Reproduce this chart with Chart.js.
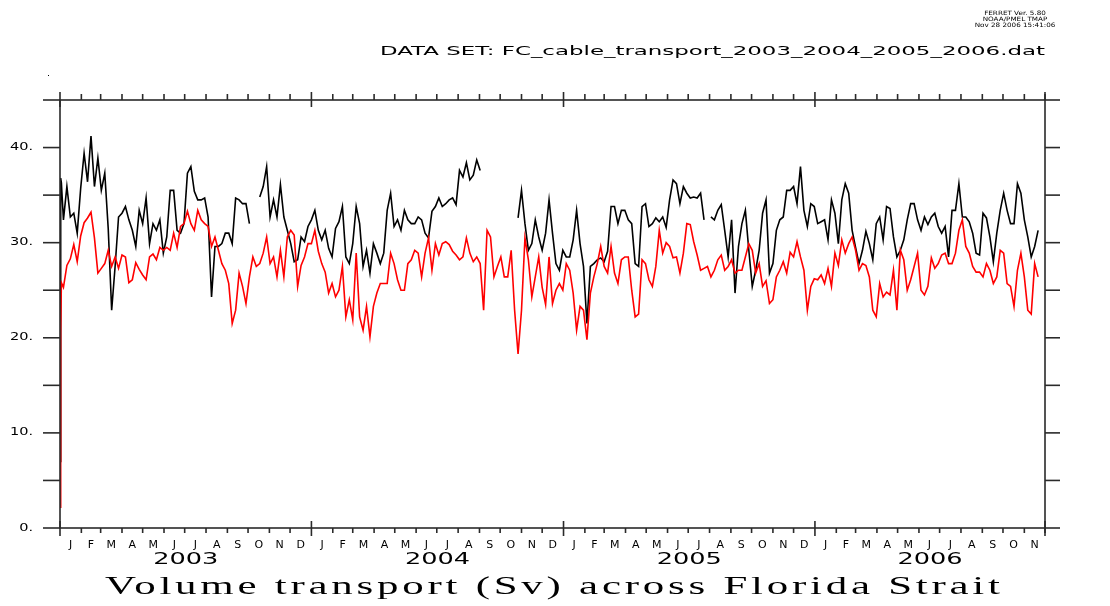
<!DOCTYPE html>
<html>
<head>
<meta charset="utf-8">
<script src="https://cdn.jsdelivr.net/npm/chart.js@4.4.1/dist/chart.umd.min.js"></script>
<style>
html,body{margin:0;padding:0;background:#ffffff;}
#wrap{position:relative;width:1110px;height:606px;}
</style>
</head>
<body>
<div id="wrap"><canvas id="c" width="1110" height="606"></canvas></div>
<script>
// ---------------- DATA ----------------
// Days are counted from 1 Jan 2003.
const X_MAX_DAY = 1430;            // 1 Dec 2006
const startDays = [0, 1, 2];       // first days of the record (spin-up)
const blackStart = [7.0, 36.8, 36.3];
const redStart = [2.2, 20.6, 25.8];
const FIRST_DAY = 5;               // main arrays start here
const DAY_STEP = 5;                // one value every 5 days

// black series (Sv), null = missing data
const blackSv = [
  // d5 - d155
  32.4, 35.9, 32.7, 33.1, 31, 35.7, 39.4, 36.4, 41.2, 35.9, 38.9, 35.5, 37.3, 31.5, 22.9, 27.5, 32.7, 33.1, 33.8, 32.4, 31.3, 29.6, 33.4, 32, 34.7, 29.9, 32, 31.3, 32.4, 28.9, 30.6,
  // d160 - d335
  35.5, 35.5, 31.3, 31, 32, 37.3, 38, 35.4, 34.5, 34.5, 34.7, 32.7, 24.3, 29.6, 29.6, 29.9, 31, 31, 29.9, 34.7, 34.5, 34.1, 34.1, 32, null, null, 34.8, 35.9, 38, 32.7, 34.5, 32.7, 36.1, 32.7, 31.3, 29.9,
  // d340 - d515
  28, 28.2, 30.6, 30.1, 31.7, 32.4, 33.4, 31.3, 30.3, 31.3, 29.4, 28.5, 31.5, 32.2, 33.8, 28.5, 27.8, 29.9, 33.8, 32, 27.5, 29.2, 26.8, 29.9, 28.9, 27.8, 28.9, 33.4, 35.2, 31.7, 32.4, 31.3, 33.4, 32.4, 32, 32,
  // d520 - d695
  32.7, 32.4, 31, 30.5, 33.3, 33.8, 34.7, 33.8, 34.1, 34.5, 34.7, 34, 37.6, 36.9, 38.4, 36.6, 37.1, 38.7, 37.6, null, null, null, null, null, null, null, null, null, null, 32.6, 35.5, 32, 29.2, 29.9, 32.4, 30.6,
  // d700 - d875
  29.2, 31, 34.5, 31, 27.8, 27.1, 29.2, 28.5, 28.5, 30.3, 33.4, 29.9, 27.5, 21.5, 27.5, 27.8, 28.2, 28.4, 28, 29.1, 33.8, 33.8, 32, 33.4, 33.4, 32.4, 32, 27.8, 27.5, 33.8, 34.1, 31.7, 32, 32.6, 32.2, 32.7,
  // d880 - d1055
  31.6, 34.5, 36.6, 36.2, 34.1, 35.9, 35.2, 34.7, 34.8, 34.7, 35.2, 32.4, null, 32.7, 32.4, 33.4, 34, 31.3, 28.5, 32.4, 24.7, 29.6, 32, 33.4, 29.2, 25.4, 27.1, 29.2, 33.1, 34.5, 26.8, 27.8, 31.3, 32.4, 32.7, 35.5,
  // d1060 - d1245
  35.5, 35.9, 34.1, 38, 33.4, 31.7, 34.1, 33.8, 32, 32.2, 32.4, 30.3, 34.5, 33.1, 29.9, 34.5, 36.2, 35.2, 31.3, 29.5, 27.8, 29.2, 31.2, 29.9, 28.2, 32, 32.7, 30.3, 33.8, 33.6, 30.6, 28.5, 29.2, 30.3, 32.4, 34.1, 34.1, 32.4,
  // d1250 - d1420
  31.3, 32.7, 31.9, 32.7, 33.1, 31.7, 31, 31.7, 28.5, 33.4, 33.4, 36.2, 32.7, 32.7, 32.2, 31, 28.9, 28.7, 33.1, 32.6, 30.6, 28, 31, 33.4, 35.2, 33.4, 32, 32, 36.2, 35.2, 32.4, 30.6, 28.5, 29.6, 31.3
];

// red series (Sv)
const redSv = [
  // d5 - d155
  25.3, 27.6, 28.3, 29.8, 28, 30.7, 32.1, 32.6, 33.2, 30.5, 26.8, 27.3, 27.8, 29.2, 27.5, 28.5, 27.3, 28.7, 28.5, 25.8, 26.1, 27.9, 27.2, 26.6, 26.1, 28.5, 28.8, 28.2, 29.5, 29.2, 29.5,
  // d160 - d335
  29.2, 31, 29.5, 31.7, 32, 33.3, 32, 31.3, 33.4, 32.4, 32, 31.7, 29.6, 30.6, 29.2, 27.8, 27.1, 25.7, 21.5, 22.9, 26.8, 25.4, 23.6, 26.4, 28.5, 27.5, 27.8, 28.9, 30.6, 27.8, 28.5, 26.4, 29.2, 26.4, 30.6, 31.3,
  // d340 - d515
  30.8, 25.4, 27.6, 28.5, 29.9, 29.9, 31.3, 29.1, 27.8, 26.9, 24.7, 25.7, 24.3, 25, 27.5, 22.2, 24, 21.9, 28.9, 22.2, 20.8, 23.3, 20.1, 23.3, 24.7, 25.7, 25.7, 25.7, 28.9, 27.8, 26.1, 25, 25, 27.8, 28.2, 29.2,
  // d520 - d695
  28.9, 26.4, 28.9, 30.5, 27.1, 29.9, 28.7, 29.9, 30.1, 29.8, 29.1, 28.7, 28.2, 28.5, 30.5, 28.9, 28, 28.5, 27.8, 22.9, 31.3, 30.6, 26.4, 27.5, 28.5, 26.4, 26.4, 29.2, 22.9, 18.3, 22.9, 30.5, 28.2, 24.3, 26.4, 28.5,
  // d700 - d875
  25.3, 23.5, 28.5, 23.6, 25, 25.7, 25, 27.8, 27.1, 24.7, 20.8, 23.3, 22.9, 19.8, 24.7, 26.4, 27.8, 29.6, 27.5, 26.8, 29.6, 26.8, 25.7, 28.2, 28.5, 28.5, 25, 22.2, 22.5, 28.2, 27.8, 26.1, 25.4, 27.5, 31.3, 28.9,
  // d880 - d1055
  30, 29.6, 28.4, 28.5, 26.8, 28.9, 32, 31.9, 30.1, 28.7, 27.1, 27.3, 27.5, 26.4, 27.1, 28.2, 28.7, 27.1, 27.5, 28.2, 26.8, 27.1, 27.1, 28.5, 29.9, 29.2, 26.8, 27.8, 25.4, 26, 23.6, 24, 26.4, 27.1, 28, 26.8,
  // d1060 - d1245
  29, 28.5, 30.1, 28.5, 27.1, 22.9, 25.4, 26.2, 26.1, 26.6, 25.7, 27.3, 25.4, 28.9, 27.6, 30.3, 28.9, 29.9, 30.6, 29.2, 27.1, 27.8, 27.6, 26.4, 22.9, 22.2, 25.7, 24.3, 24.8, 24.5, 27.1, 22.9, 29.2, 28.2, 25, 26.1, 27.5, 28.9,
  // d1250 - d1420
  25, 24.5, 25.4, 28.4, 27.3, 27.8, 28.7, 28.9, 27.8, 27.8, 28.9, 31.3, 32.4, 29.6, 28.9, 27.5, 26.9, 26.9, 26.4, 27.8, 27.1, 25.7, 26.4, 29.2, 28.9, 25.7, 25.4, 23.3, 27.1, 28.9, 26.4, 22.9, 22.5, 27.8, 26.4
];

const yTickValues = [0, 5, 10, 15, 20, 25, 30, 35, 40, 45];
const yTickLabelValues = [0, 10, 20, 30, 40];
const yTickLabels = ['0.', '10.', '20.', '30.', '40.'];
const monthLetters = ['J', 'F', 'M', 'A', 'M', 'J', 'J', 'A', 'S', 'O', 'N', 'D'];
const yearLabels = ['2003', '2004', '2005', '2006'];
const titleText = 'Volume transport (Sv) across Florida Strait';
const dataSetText = 'DATA SET: FC_cable_transport_2003_2004_2005_2006.dat';
const headerLines = ['FERRET Ver. 5.80', 'NOAA/PMEL TMAP', 'Nov 28 2006 15:41:06'];

// ---------------- build ----------------
function buildSeries(startVals, vals) {
  const pts = startDays.map((d, i) => ({x: d, y: startVals[i]}));
  vals.forEach((v, i) => pts.push({x: FIRST_DAY + i * DAY_STEP, y: v}));
  return pts;
}
const DAY0 = Date.UTC(2003, 0, 1);
function dayOf(y, m) { return Math.round((Date.UTC(y, m, 1) - DAY0) / 86400000); }
const monthStarts = [];   // {day, month, year}
for (let yy = 2003; yy <= 2006; yy++) {
  for (let m = 0; m < 12; m++) {
    const d = dayOf(yy, m);
    if (d <= X_MAX_DAY) monthStarts.push({day: d, month: m, year: yy});
  }
}

function drawScaled(ctx, text, x, y, font, sx, align, baseline) {
  ctx.save();
  ctx.font = font;
  ctx.textAlign = align || 'center';
  ctx.textBaseline = baseline || 'middle';
  ctx.translate(x, y);
  ctx.scale(sx, 1);
  ctx.fillText(text, 0, 0);
  ctx.restore();
}
// stretch horizontally by sx and spread letters slightly so the text fills [left, left+width]
function drawSpread(ctx, text, left, width, y, font, sx, baseline) {
  ctx.save();
  ctx.font = font;
  ctx.letterSpacing = '0px';
  const w = ctx.measureText(text).width;
  const n = text.length;
  const sp = Math.max(0, (width / sx - w) / (n - 1));
  ctx.letterSpacing = sp.toFixed(3) + 'px';
  ctx.textAlign = 'left';
  ctx.textBaseline = baseline || 'middle';
  ctx.translate(left, y);
  ctx.scale(sx, 1);
  ctx.fillText(text, 0, 0);
  ctx.restore();
}
function drawFit(ctx, text, left, width, y, font, baseline) {
  ctx.save();
  ctx.font = font;
  const w = ctx.measureText(text).width;
  ctx.textAlign = 'left';
  ctx.textBaseline = baseline || 'middle';
  ctx.translate(left, y);
  ctx.scale(width / w, 1);
  ctx.fillText(text, 0, 0);
  ctx.restore();
}

const ferretPlugin = {
  id: 'ferret',
  afterDatasetsDraw(chart) {
    const ctx = chart.ctx;
    const a = chart.chartArea;
    const xs = chart.scales.x, ys = chart.scales.y;
    ctx.save();
    ctx.strokeStyle = '#2a2a2a';
    ctx.lineWidth = 1.6;
    const seg = (x1, y1, x2, y2) => { ctx.beginPath(); ctx.moveTo(x1, y1); ctx.lineTo(x2, y2); ctx.stroke(); };
    // frame
    ctx.strokeRect(a.left, a.top, a.right - a.left, a.bottom - a.top);
    // y ticks (left and right, outward)
    yTickValues.forEach(v => {
      const py = ys.getPixelForValue(v);
      seg(a.left - 17, py, a.left, py);
      seg(a.right, py, a.right + 15, py);
    });
    // x ticks (top and bottom)
    monthStarts.forEach(ms => {
      const px = xs.getPixelForValue(ms.day);
      if (ms.month === 0) {
        seg(px, a.bottom - 7, px, a.bottom + 8);
        seg(px, a.top - 8, px, a.top + 7);
      } else {
        seg(px, a.bottom, px, a.bottom + 5);
        seg(px, a.top - 6, px, a.top);
      }
    });
    const endPx = xs.getPixelForValue(X_MAX_DAY);
    seg(endPx, a.bottom - 7, endPx, a.bottom + 8);
    seg(endPx, a.top - 8, endPx, a.top);

    ctx.fillStyle = '#000';
    // y labels
    yTickLabelValues.forEach((v, i) => {
      drawScaled(ctx, yTickLabels[i], 33, ys.getPixelForValue(v), '10px "DejaVu Sans"', 1.45, 'right');
    });
    // month letters
    for (let i = 0; i < monthStarts.length; i++) {
      const d0 = monthStarts[i].day;
      const d1 = (i + 1 < monthStarts.length) ? monthStarts[i + 1].day : null;
      if (d1 === null) continue;
      const cx = (xs.getPixelForValue(d0) + xs.getPixelForValue(d1)) / 2;
      drawScaled(ctx, monthLetters[monthStarts[i].month], cx, 545.5, '10px "DejaVu Sans"', 1.1, 'center');
    }
    // year labels
    yearLabels.forEach((lab, i) => {
      const yr = 2003 + i;
      const d0 = dayOf(yr, 0);
      const d1 = Math.min(dayOf(yr + 1, 0), X_MAX_DAY);
      const cx = (xs.getPixelForValue(d0) + xs.getPixelForValue(d1)) / 2;
      drawScaled(ctx, lab, cx, 559.5, '16px "DejaVu Sans"', 1.6, 'center');
    });
    // title
    drawSpread(ctx, titleText, 105, 895, 594, '26px "Liberation Serif"', 1.65, 'alphabetic');
    // data set line
    drawFit(ctx, dataSetText, 380, 665, 52, '12px "DejaVu Sans"', 'middle');
    // header
    headerLines.forEach((t, i) => {
      drawScaled(ctx, t, 1015, 13 + i * 6, '6px "DejaVu Sans"', 1.2, 'center');
    });
    // small dot
    ctx.fillRect(48, 75, 1, 1);
    ctx.restore();
  }
};

new Chart(document.getElementById('c'), {
  type: 'line',
  data: {
    datasets: [
      {
        label: 'red',
        data: buildSeries(redStart, redSv),
        borderColor: '#ff0000',
        borderWidth: 1.6,
        pointRadius: 0,
        tension: 0,
        spanGaps: false,
        fill: false
      },
      {
        label: 'black',
        data: buildSeries(blackStart, blackSv),
        borderColor: '#000000',
        borderWidth: 1.6,
        pointRadius: 0,
        tension: 0,
        spanGaps: false,
        fill: false
      }
    ]
  },
  options: {
    responsive: false,
    animation: false,
    devicePixelRatio: 1,
    layout: {padding: {left: 60, right: 65, top: 100, bottom: 78}},
    plugins: {legend: {display: false}, tooltip: {enabled: false}},
    scales: {
      x: {type: 'linear', min: 0, max: X_MAX_DAY, display: false},
      y: {type: 'linear', min: 0, max: 45, display: false}
    }
  },
  plugins: [ferretPlugin]
});
</script>
</body>
</html>
